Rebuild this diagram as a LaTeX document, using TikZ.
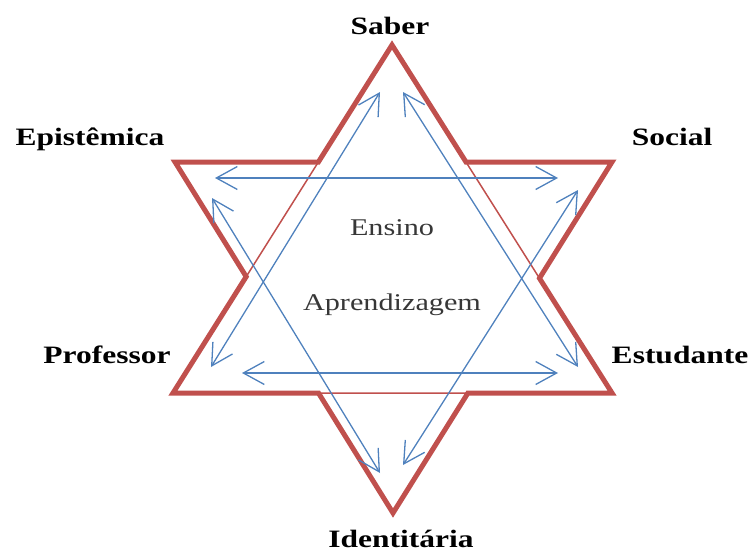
\documentclass[tikz,border=0pt]{standalone}
\usepackage{fontspec}
\setmainfont{Liberation Serif}[FakeStretch=1.26]
\usetikzlibrary{arrows.meta}
\definecolor{starred}{RGB}{192,80,77}
\definecolor{starblue}{RGB}{79,129,189}
\definecolor{midgrey}{RGB}{55,55,55}

\begin{document}
\begin{tikzpicture}[x=1pt,y=-1pt,>={Straight Barb[length=21pt,width=23pt]}]
\tikzstyle{lbl}=[font=\fontsize{25}{29}\selectfont\bfseries,anchor=base,inner sep=0pt]
\tikzstyle{mid}=[font=\fontsize{24}{28}\selectfont,text=midgrey,anchor=base,inner sep=0pt]
\tikzstyle{arr}=[<->,draw=starblue,line width=1.3pt]
\useasboundingbox (0,0) rectangle (752,551);
% corners of the two triangles
\coordinate (A) at (392,45);
\coordinate (B) at (173,393);
\coordinate (C) at (612,393);
\coordinate (D) at (175,162);
\coordinate (E) at (612,162);
\coordinate (F) at (393,513);
% red star
\draw[starred,line width=1.5pt] (A) -- (B) -- (C) -- cycle;
\draw[starred,line width=5pt,line join=miter]
  (A) -- (intersection of A--B and D--E) -- (D)
  -- (intersection of A--B and D--F) -- (B)
  -- (intersection of B--C and D--F) -- (F)
  -- (intersection of B--C and E--F) -- (C)
  -- (intersection of A--C and E--F) -- (E)
  -- (intersection of A--C and D--E) -- cycle;
% arrow ends
\coordinate (sl) at (380,92);
\coordinate (pr) at (211,367);
\coordinate (sr) at (403,92);
\coordinate (es) at (578,367);
\coordinate (pb) at (242,373);
\coordinate (eb) at (558,373);
\coordinate (ep) at (215,178);
\coordinate (so) at (558,178);
\coordinate (el) at (212,198);
\coordinate (il) at (380,473);
\coordinate (sd) at (578,190);
\coordinate (ir) at (403,465);
\foreach \a/\b in {sl/pr,sr/es,pb/eb,ep/so,el/il,sd/ir} \draw[arr] (\a) -- (\b);
% labels
\node[lbl] (saber) at (390,35) {Saber};
\node[lbl] (epistemica) at (90,145) {Epistêmica};
\node[lbl] (social) at (672,145) {Social};
\node[lbl] (professor) at (107,363) {Professor};
\node[lbl] (estudante) at (680,363) {Estudante};
\node[lbl] (identitaria) at (401,547) {Identitária};
\node[mid] (ensino) at (392,235) {Ensino};
\node[mid] (aprendizagem) at (392,310) {Aprendizagem};
\end{tikzpicture}
\end{document}
